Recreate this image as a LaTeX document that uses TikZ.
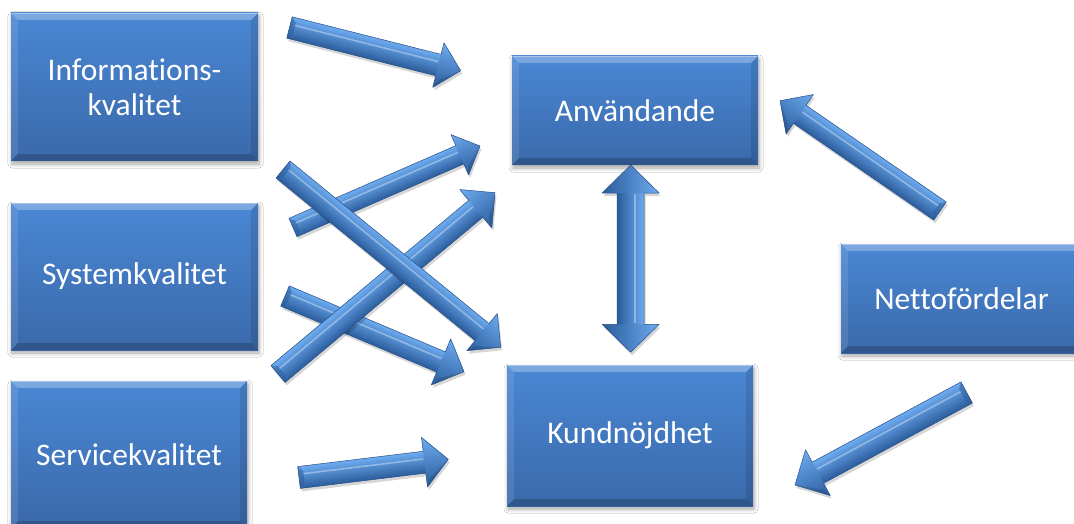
\documentclass[tikz,border=0pt]{standalone}
\usepackage{fontspec}
\setmainfont{Carlito}[Ligatures=NoCommon]
\usetikzlibrary{calc,shadows.blur}

\definecolor{boxtop}{HTML}{4A87D4}
\definecolor{boxbot}{HTML}{3A69AA}
\definecolor{arrlight}{HTML}{6DABF0}
\definecolor{arrmid}{HTML}{4380CA}
\definecolor{arrdark}{HTML}{2B5C9B}
\definecolor{arrline}{HTML}{264F86}

\tikzset{
  qbox/.style={rectangle, inner sep=0pt, top color=boxtop, bottom color=boxbot,
    text=white, align=center, font=\fontsize{31.5}{35}\selectfont,
    blur shadow={shadow xshift=1pt, shadow yshift=-3pt, shadow blur radius=4pt,
      shadow blur steps=6, shadow opacity=35}},
  arrshade/.style={top color=arrlight, middle color=arrmid, bottom color=arrdark},
  arroutline/.style={draw=arrline, line width=0.5pt, line join=round},
}

% geometry of a connector between two named coordinates
\newcommand\barsetup[2]{%
  \path let \p1=($(#2)-(#1)$), \p2=(#1) in \pgfextra{%
    \pgfmathsetmacro\tmpang{atan2(\y1,\x1)}%
    \pgfmathsetmacro\tmplen{veclen(\x1,\y1)}%
    \pgfmathsetmacro\tmpflip{cos(\tmpang)<-0.01 ? -1 : 1}%
    \xdef\barang{\tmpang}\xdef\barlen{\tmplen}\xdef\barflip{\tmpflip}%
    \xdef\barx{\x2}\xdef\bary{\y2}};%
}
% single block arrow: tail, tip, half shaft, half head, head length
\newcommand\barrow[5]{%
  \barsetup{#1}{#2}%
  \begin{scope}[transform canvas={shift={(\barx+1.5pt,\bary-3pt)},rotate=\barang,yscale=\barflip}]
    \fill[black,opacity=0.16] (0,{-#3}) -- ({\barlen-#5},{-#3}) -- ({\barlen-#5},{-#4}) -- (\barlen,0)
      -- ({\barlen-#5},#4) -- ({\barlen-#5},#3) -- (0,#3) -- cycle;
  \end{scope}
  \begin{scope}[transform canvas={shift={(\barx,\bary)},rotate=\barang,yscale=\barflip}]
    \shade[arrshade] (0,{-#3}) rectangle ({\barlen-#5+0.5},#3);
    \shade[arrshade] ({\barlen-#5},{-#4}) -- (\barlen,0) -- ({\barlen-#5},#4) -- cycle;
    \draw[white,opacity=0.35,line width=1.6pt] (4,{-0.3*#3}) -- ({\barlen-#5-1},{-0.3*#3});
    \fill[arrdark,opacity=0.5] (0,{-#3}) -- (5,{-#3+5}) -- (5,{#3-5}) -- (0,#3) -- cycle;
    \fill[black,opacity=0.12] ({\barlen-#5},#4) -- (\barlen,0) -- ({\barlen-#5+4},{#4-9}) -- cycle;
    \path[arroutline] (0,{-#3}) -- ({\barlen-#5},{-#3}) -- ({\barlen-#5},{-#4}) -- (\barlen,0)
      -- ({\barlen-#5},#4) -- ({\barlen-#5},#3) -- (0,#3) -- cycle;
  \end{scope}
}
% double block arrow
\newcommand\dbarrow[5]{%
  \barsetup{#1}{#2}%
  \begin{scope}[transform canvas={shift={(\barx+1.5pt,\bary-3pt)},rotate=\barang,yscale=\barflip}]
    \fill[black,opacity=0.16] (0,0) -- (#5,{-#4}) -- (#5,{-#3}) -- ({\barlen-#5},{-#3}) -- ({\barlen-#5},{-#4})
      -- (\barlen,0) -- ({\barlen-#5},#4) -- ({\barlen-#5},#3) -- (#5,#3) -- (#5,#4) -- cycle;
  \end{scope}
  \begin{scope}[transform canvas={shift={(\barx,\bary)},rotate=\barang,yscale=\barflip}]
    \shade[arrshade] ({#5-0.5},{-#3}) rectangle ({\barlen-#5+0.5},#3);
    \shade[arrshade] (0,0) -- (#5,{-#4}) -- (#5,#4) -- cycle;
    \shade[arrshade] ({\barlen-#5},{-#4}) -- (\barlen,0) -- ({\barlen-#5},#4) -- cycle;
    \draw[white,opacity=0.35,line width=2pt] ({#5+1},{-0.3*#3}) -- ({\barlen-#5-1},{-0.3*#3});
    \path[arroutline] (0,0) -- (#5,{-#4}) -- (#5,{-#3}) -- ({\barlen-#5},{-#3}) -- ({\barlen-#5},{-#4})
      -- (\barlen,0) -- ({\barlen-#5},#4) -- ({\barlen-#5},#3) -- (#5,#3) -- (#5,#4) -- cycle;
  \end{scope}
}
% bevel on a box node
\newcommand\bevelbox[1]{%
  \fill[white,opacity=0.28] (#1.north west) -- (#1.north east) -- ($(#1.north east)+(-7,7)$) -- ($(#1.north west)+(7,7)$) -- cycle;
  \fill[white,opacity=0.10] (#1.north west) -- ($(#1.north west)+(7,7)$) -- ($(#1.south west)+(7,-7)$) -- (#1.south west) -- cycle;
  \fill[black,opacity=0.10] (#1.north east) -- ($(#1.north east)+(-7,7)$) -- ($(#1.south east)+(-7,-7)$) -- (#1.south east) -- cycle;
  \fill[black,opacity=0.18] (#1.south west) -- ($(#1.south west)+(7,-7)$) -- ($(#1.south east)+(-7,-7)$) -- (#1.south east) -- cycle;
  \draw[white,opacity=0.35,line width=1pt] ($(#1.north west)+(1,0.5)$) -- ($(#1.north east)+(-1,0.5)$);
}

\begin{document}
\begin{tikzpicture}[x=1pt,y=-1pt]
\useasboundingbox (0,0) rectangle (1074,524);
\fill[white] (0,0) rectangle (1074,524);
\clip (0,0) rectangle (1074,524);

% boxes
\node[qbox, minimum width=247pt, minimum height=148pt] (info) at (134.5,87) {Informations-\\kvalitet};
\node[qbox, minimum width=247pt, minimum height=147pt] (sys) at (134.5,276.5) {Systemkvalitet};
\node[qbox, minimum width=236pt, minimum height=147pt] (serv) at (129,454.5) {Servicekvalitet};
\node[qbox, minimum width=246pt, minimum height=109pt] (anv) at (635,110.5) {Användande};
\node[qbox, minimum width=246pt, minimum height=141pt] (kund) at (630,435.5) {Kundnöjdhet};
\node[qbox, minimum width=241pt, minimum height=109pt] (netto) at (961.5,298.5) {Nettofördelar};
\foreach \n in {info,sys,serv,anv,kund,netto} {\bevelbox{\n}}

% connector end points
\coordinate (a1s) at (289.5,27.5);  \coordinate (a1e) at (460.7,70.7);
\coordinate (a2s) at (293,227.5);   \coordinate (a2e) at (480,146);
\coordinate (a3s) at (283,169.5);   \coordinate (a3e) at (500.7,347.3);
\coordinate (a4s) at (278,374);     \coordinate (a4e) at (495,192.7);
\coordinate (a5s) at (285,296);     \coordinate (a5e) at (464,371.7);
\coordinate (a6s) at (299,477.5);   \coordinate (a6e) at (448.3,459.3);
\coordinate (a7s) at (630.7,165);   \coordinate (a7e) at (630.7,352.3);
\coordinate (a8s) at (940,211);     \coordinate (a8e) at (780,100.7);
\coordinate (a9s) at (966.7,392.5); \coordinate (a9e) at (795,485);

% connectors
\barrow{a1s}{a1e}{11}{23}{23}
\barrow{a2s}{a2e}{10}{22}{22}
\barrow{a5s}{a5e}{11}{25}{25}
\barrow{a4s}{a4e}{11}{25}{25}
\barrow{a3s}{a3e}{11}{24}{24}
\barrow{a6s}{a6e}{11}{25}{24}
\dbarrow{a7s}{a7e}{13.5}{28.5}{28}
\barrow{a8s}{a8e}{11}{24}{24}
\barrow{a9s}{a9e}{12}{26}{26}
\end{tikzpicture}
\end{document}
